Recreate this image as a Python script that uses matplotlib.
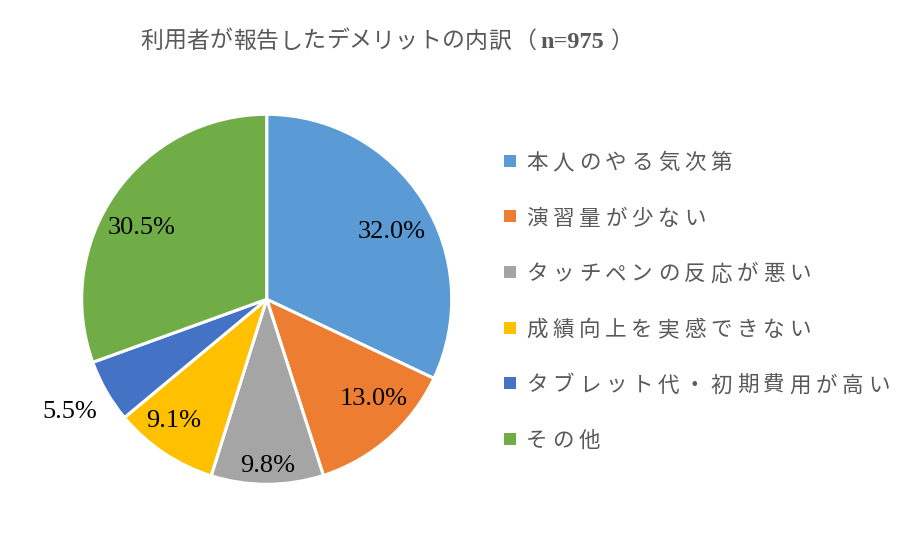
import matplotlib
matplotlib.use("Agg")
from matplotlib import pyplot as plt
from matplotlib.patches import Rectangle
import numpy as np

W, H = 910, 544
JP = ['Noto Sans CJK JP', 'DejaVu Sans']
SERIF = 'Liberation Serif'
GREY = '#595959'

labels = ['本人のやる気次第', '演習量が少ない', 'タッチペンの反応が悪い',
          '成績向上を実感できない', 'タブレット代・初期費用が高い', 'その他']
shares = [32.0, 13.0, 9.8, 9.1, 5.5, 30.5]
colors = ['#5B9BD5', '#ED7D31', '#A5A5A5', '#FFC000', '#4472C4', '#70AD47']
title_jp = '利用者が報告したデメリットの内訳'
title_n = 'n=975'

# label placement (fraction of radius, angle nudge in degrees)
lab_r = [0.77, 0.79, 0.90, 0.83, 1.23, 0.78]
lab_da = [-4.0, 5.6, 0.0, -3.6, 0.0, 5.4]

fig = plt.figure(figsize=(W / 100, H / 100), dpi=100)


def px(x, y):
    return x / W, 1 - y / H


def spaced(x0, y, s, step, **kw):
    # matplotlib has no letter-spacing, so place glyphs one by one
    for i, ch in enumerate(s):
        fig.text(*px(x0 + i * step, y), ch, ha='center', va='baseline', **kw)


# pie, centre (266.7, 299.3) px, radius 185 px
cx, cy, R = 266.7, 299.3, 185
ax = fig.add_axes([(cx - R) / W, (H - cy - R) / H, 2 * R / W, 2 * R / H])
wedges, _ = ax.pie(shares, colors=colors, startangle=90, counterclock=False,
                   wedgeprops=dict(edgecolor='white', linewidth=2.2))
ax.set_xlim(-1, 1)
ax.set_ylim(-1, 1)
ax.set_aspect('equal')

for w, v, r, da in zip(wedges, shares, lab_r, lab_da):
    a = np.deg2rad((w.theta1 + w.theta2) / 2 + da)
    ax.text(r * np.cos(a), r * np.sin(a), f'{v:.1f}%', ha='center', va='center',
            family=SERIF, fontsize=19, color='black', clip_on=False)

# title
ty = 47.5
spaced(151.5, ty, title_jp, 23.2, family=JP, fontsize=16.5, color=GREY)
fig.text(*px(524, ty), '（', ha='center', va='baseline', family=JP, fontsize=16.5, color=GREY)
fig.text(*px(572.5, ty), title_n, ha='center', va='baseline', family=SERIF,
         fontsize=17.5, fontweight='bold', color=GREY)
fig.text(*px(622, ty), '）', ha='center', va='baseline', family=JP, fontsize=16.5, color=GREY)

# legend
row0, drow = 160.7, 55.6
for i, (lab, c) in enumerate(zip(labels, colors)):
    yc = row0 + i * drow
    fig.add_artist(Rectangle(px(504, yc + 6), 12 / W, 12 / H, transform=fig.transFigure,
                             facecolor=c, edgecolor='none'))
    spaced(537, yc + 8.5, lab, 26.3, family=JP, fontsize=15.5, color=GREY)

fig.savefig('out.png', dpi=100)
